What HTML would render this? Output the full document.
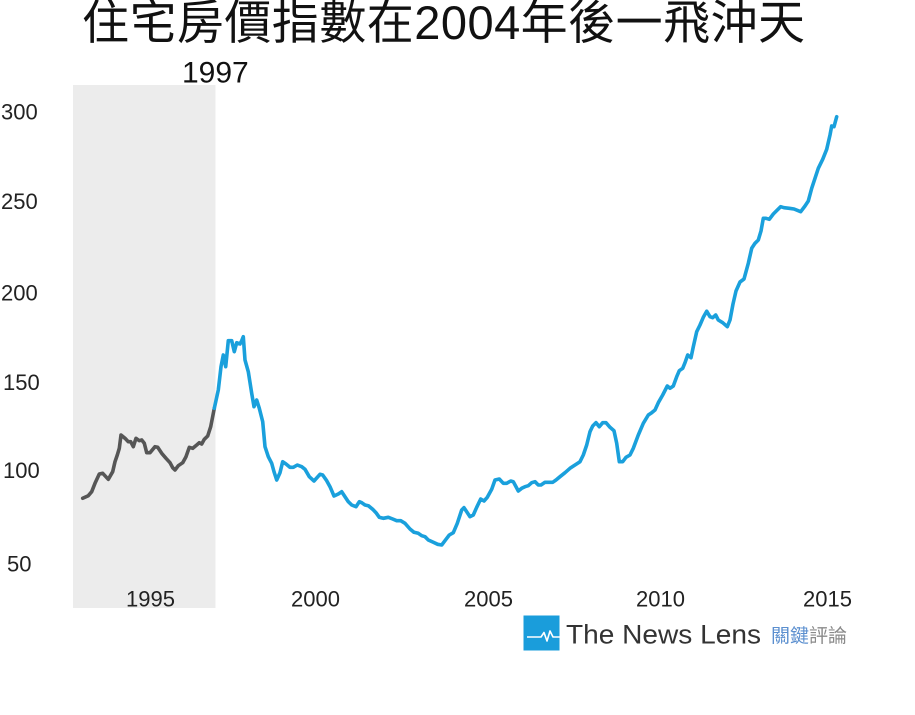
<!DOCTYPE html>
<html>
<head>
<meta charset="utf-8">
<style>
  html, body { margin: 0; padding: 0; background: #ffffff; }
  svg { display: block; }
  text { font-family: "Liberation Sans", "Noto Sans CJK TC", sans-serif; }
</style>
</head>
<body>
<svg width="915" height="715" viewBox="0 0 915 715" xmlns="http://www.w3.org/2000/svg">
  <rect x="0" y="0" width="915" height="715" fill="#ffffff"/>

  <!-- Title -->
  <text x="82" y="39" font-size="47" fill="#111" textLength="723" lengthAdjust="spacing">住宅房價指數在2004年後一飛沖天</text>

  <!-- shaded region -->
  <rect x="73" y="85" width="142.5" height="523" fill="#ececec"/>
  <text x="182" y="82.5" font-size="30" fill="#111">1997</text>

  <!-- Y axis labels -->
  <g font-size="22" fill="#222">
    <text x="1" y="119.5">300</text>
    <text x="1" y="209">250</text>
    <text x="1" y="300.5">200</text>
    <text x="3" y="390">150</text>
    <text x="3" y="478">100</text>
    <text x="7" y="571.5">50</text>
  </g>

  <!-- X axis labels -->
  <g font-size="22" fill="#222">
    <text x="126" y="606.5">1995</text>
    <text x="291" y="606.5">2000</text>
    <text x="464" y="606.5">2005</text>
    <text x="636" y="606.5">2010</text>
    <text x="803" y="606.5">2015</text>
  </g>

  <!-- gray series -->
  <polyline fill="none" stroke="#565656" stroke-width="3.6" stroke-linejoin="round" stroke-linecap="round"
    points="82.7,498.3 88.3,495.7 91.7,491.7 95,483.3 99.3,474 102.7,473.3 108.3,479.3 112.7,471.7 115,461.7 117.3,455 119.3,448.3 121,435 125,438.3 128.3,441.7 130.7,441.7 133.3,446.7 136,438.3 139.3,440.7 141.7,440 144.3,443.3 146.7,452.7 150,452.7 155,446.7 157.7,447.3 161.7,453.3 166,458.3 170,462.7 172.7,467.7 175,470 178.3,465.7 182.7,462.7 186,456.7 189.3,447.3 192.7,448.3 196.7,445 199.3,442.7 201.7,444 204.3,439.3 207.7,436 210.7,426.7 214.3,408.3"/>

  <!-- blue series -->
  <polyline fill="none" stroke="#1aa0dc" stroke-width="3.6" stroke-linejoin="round" stroke-linecap="round"
    points="214.3,408.3 218.3,390 221,366.7 223.3,355 225.7,366.7 228.3,340.7 231.7,340.7 234.3,351.7 236.7,342.7 240,344 241.7,340.7 243.3,336.7 245,360 248.3,371.7 251.7,393.3 254,406.7 256.7,400 259.3,408.3 262.7,421.7 265,446.7 268.3,456.7 271.7,463.3 274,471.7 276.7,480 280,472.7 282.7,461.7 286,464 290,467.3 293.3,467.3 297.3,465 301.7,466.7 305,469.3 309.3,476.7 314,481 320,474.3 322.7,475 326.7,480.7 330,486.7 334,496 338.3,494 341.7,491.7 345,496.7 348.3,501.7 351.7,505 356,506.7 359.3,501.7 361.7,502.7 365,505 368.3,505.7 372.7,509.3 376,512.7 379.3,517.3 383.3,518.3 388.3,517.3 392.7,519 396.7,520.7 400.7,520.7 405,523.3 410,529 414,532.3 418.3,533.3 421.7,535.7 425,536.7 428.3,540 433.3,542.3 437.7,544.3 441.7,545 446,539.3 449.3,535 453.3,532.7 457.3,523.3 461.7,510 464,507.7 466.7,511.7 470,516.7 473.3,515 476.7,507.3 480.7,499 484,501 487.3,497.3 491.7,489.3 495,480 499.3,479 503.3,483.3 506.7,483.3 510.7,481 513.3,481.7 518.3,491 521.7,488.3 525,486.7 528.3,485.7 531.7,482.7 535,481.7 538.3,485 541,485 545,482.3 548.3,482.3 552.7,482.3 556,480 560,476.7 565,472.7 570,468.3 575,465 580,461.7 583.3,455 586.7,445 590,431.7 592.7,426 596,422.7 599.3,426.7 602.7,422.7 606,422.7 610,427.3 614,430.7 616.7,443.3 619.3,461.7 622.7,461.7 626,457.3 630,455 633.3,448.3 638.3,435 643.3,423.3 648.3,415 651.7,412.7 655,410 658.3,402.7 662.7,395 667.3,386 670,388.3 673.3,386 676.7,376.7 679.3,370.7 682.7,368.3 685,362.7 687.7,355 691,357.7 693.3,346.7 696.7,331.7 700,325 703.3,317.3 706.7,311.2 710,316.7 712.7,317.7 715.7,315 718.3,320 722.7,322.7 727.3,326.7 730,320 733,304 736,291 740,282 744,279 748.3,263.3 751.7,248.3 755,243.3 758.3,240 761,231 763.3,218.3 766,218.3 769.3,219.3 773.3,214 777.3,210 780.7,206.7 784,207.7 789.3,208.3 794,209 800.7,211.7 805,206 808.3,201 811.7,188.3 815,178.3 818.3,168.3 822.7,159.3 826.7,149.3 830,135 831.7,126 834,126.7 836.7,116.7"/>

  <!-- Logo -->
  <rect x="523.5" y="615.5" width="36" height="35" fill="#1a9ddb"/>
  <polyline fill="none" stroke="#ffffff" stroke-width="1.6" stroke-linejoin="round"
    points="527,637 541,637 544,632.5 547,641 550,631 553,637 559.5,637"/>
  <text x="566" y="643.5" font-size="26.5" fill="#333" textLength="195" lengthAdjust="spacingAndGlyphs">The News Lens</text>
  <text x="771" y="642" font-size="19" fill="#5b8fcf">關鍵<tspan fill="#8a8a8a">評論</tspan></text>
</svg>
</body>
</html>
